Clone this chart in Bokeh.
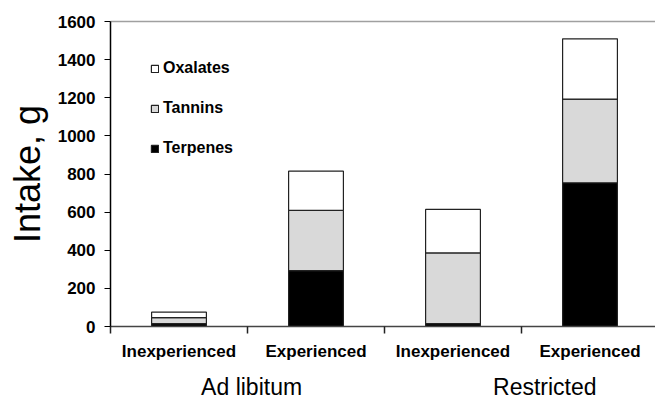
from bokeh.plotting import figure
from bokeh.models import (ColumnDataSource, FixedTicker, LinearAxis, Legend, LegendItem, Range1d)
from bokeh.embed import file_html
from bokeh.resources import INLINE

categories = ["Inexperienced", "Experienced", "Inexperienced", "Experienced"]
groups = ["Ad libitum", "Restricted"]
group_pos = [1.03, 3.17]
terpenes = [15, 293, 15, 754]
tannins = [32, 316, 371, 439]
oxalates = [28, 206, 228, 316]
y_ticks = [0, 200, 400, 600, 800, 1000, 1200, 1400, 1600]

xpos = [i + 0.5 for i in range(len(categories))]
src = ColumnDataSource(dict(x=xpos, Terpenes=terpenes, Tannins=tannins, Oxalates=oxalates))

FONT = "Liberation Sans"

p = figure(width=655, height=402, output_backend="svg", toolbar_location=None,
           x_range=Range1d(0, 3.978), y_range=Range1d(0, 1600),
           min_border_left=110, min_border_right=0, min_border_top=21, min_border_bottom=70,
           x_axis_type=None)
p.outline_line_color = None
p.grid.visible = False
p.background_fill_color = "white"

rs = p.vbar_stack(["Terpenes", "Tannins", "Oxalates"], x="x", width=0.4, source=src,
                  fill_color=["black", "#d9d9d9", "white"], line_color="#222222", line_width=1.2)

# y axis
ya = p.yaxis[0]
ya.ticker = FixedTicker(ticks=y_ticks)
ya.axis_line_color = "black"
ya.axis_line_width = 1.5
ya.major_tick_out = 6
ya.major_tick_in = 0
ya.minor_tick_line_color = None
ya.major_label_text_font = FONT
ya.major_label_text_font_style = "bold"
ya.major_label_text_font_size = "17px"
ya.major_label_text_color = "black"
ya.major_label_standoff = 9
ya.axis_label = "Intake, g"
ya.axis_label_text_font = FONT
ya.axis_label_text_font_style = "normal"
ya.axis_label_text_font_size = "36px"
ya.axis_label_text_color = "black"
ya.axis_label_standoff = 7

# category axis
xa = LinearAxis(ticker=FixedTicker(ticks=xpos, minor_ticks=[0, 1, 2, 3, 4]),
                major_label_overrides={x: c for x, c in zip(xpos, categories)})
xa.axis_line_color = "#444444"
xa.axis_line_width = 1.5
xa.major_tick_out = 0
xa.major_tick_in = 0
xa.minor_tick_out = 7
xa.minor_tick_in = 0
xa.minor_tick_line_color = "#222222"
xa.minor_tick_line_width = 1.5
xa.major_label_text_font = FONT
xa.major_label_text_font_style = "bold"
xa.major_label_text_font_size = "17px"
xa.major_label_text_color = "black"
xa.major_label_standoff = 8
p.add_layout(xa, "below")

# group axis
ga = LinearAxis(ticker=FixedTicker(ticks=group_pos, minor_ticks=[]),
                major_label_overrides={x: g for x, g in zip(group_pos, groups)})
ga.axis_line_color = None
ga.major_tick_line_color = None
ga.minor_tick_line_color = None
ga.major_label_text_font = FONT
ga.major_label_text_font_size = "23px"
ga.major_label_text_color = "black"
ga.major_label_standoff = 4
p.add_layout(ga, "below")

# top border
ta = LinearAxis(ticker=FixedTicker(ticks=[]))
ta.axis_line_color = "#a0a0a0"
ta.axis_line_width = 1.5
ta.major_tick_line_color = None
ta.minor_tick_line_color = None
ta.major_label_text_font_size = "0px"
ta.major_label_standoff = 0
p.add_layout(ta, "above")

legend = Legend(items=[LegendItem(label="Oxalates", renderers=[rs[2]]),
                       LegendItem(label="Tannins", renderers=[rs[1]]),
                       LegendItem(label="Terpenes", renderers=[rs[0]])],
                location=(40, 168), padding=0, margin=0, spacing=20,
                glyph_width=9, glyph_height=9, label_height=20, label_standoff=4,
                label_text_font=FONT, label_text_font_style="bold",
                label_text_font_size="16px", label_text_color="black",
                border_line_color=None, background_fill_alpha=0)
p.add_layout(legend, "center")

open("out.html", "w").write(file_html(p, INLINE))
